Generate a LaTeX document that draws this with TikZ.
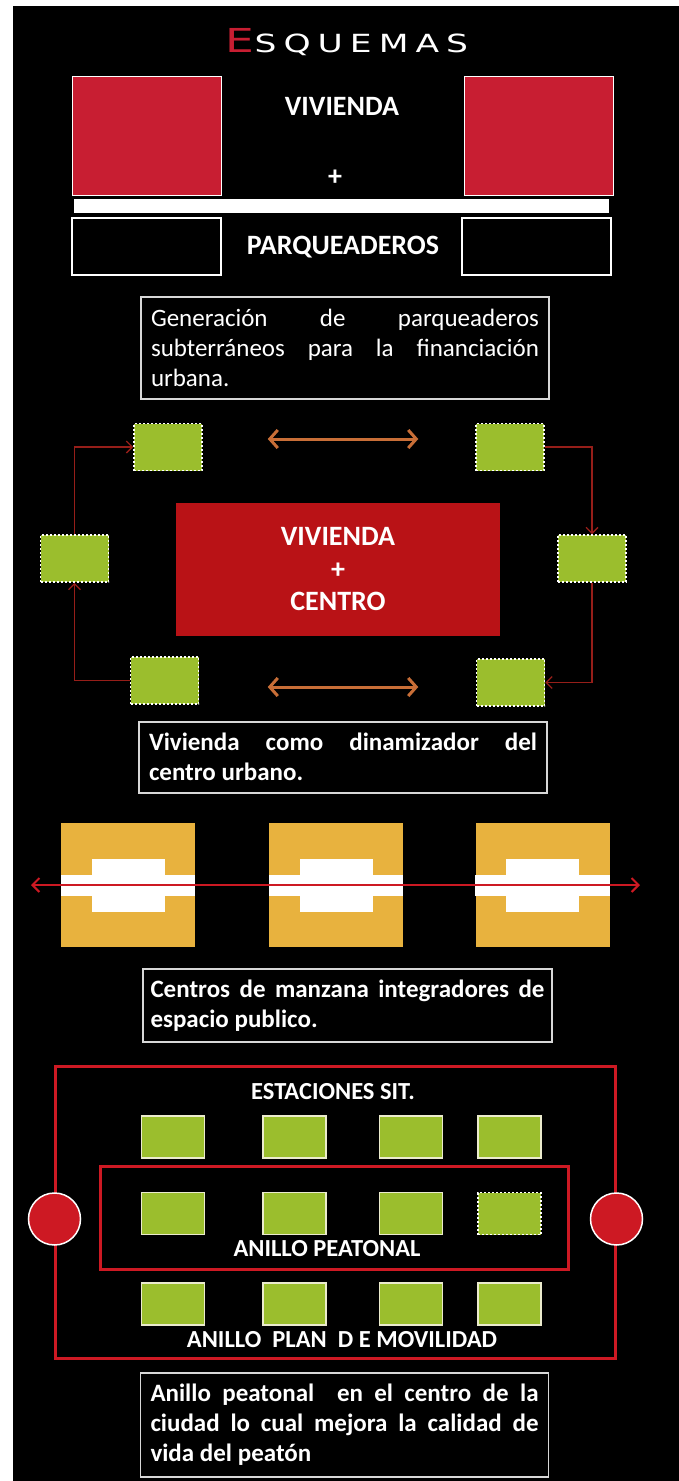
\documentclass[tikz,border=0pt]{standalone}
\usepackage{fontspec}
\setmainfont{Carlito}
\newfontfamily\titlefont[FakeStretch=1.38,LetterSpace=28]{DejaVu Sans}
\usepackage{tikz}
\usetikzlibrary{arrows.meta, positioning, calc}
\definecolor{myred}{RGB}{200,30,50}
\definecolor{mycrimson}{RGB}{185,18,22}
\definecolor{mylime}{RGB}{155,190,45}
\definecolor{myochre}{RGB}{232,178,62}
\definecolor{mycopper}{RGB}{200,110,55}
\definecolor{mymaroon}{RGB}{150,30,25}
\definecolor{myring}{RGB}{205,25,35}
\definecolor{myframe}{RGB}{215,215,215}
\definecolor{mycream}{RGB}{235,235,205}
\hyphenpenalty=10000
\exhyphenpenalty=10000
\newcommand{\notefont}{\fontsize{25bp}{30bp}\selectfont\spaceskip=0.23em plus 3em minus 0.06em\relax}
\newcommand{\notefontbold}{\fontsize{25bp}{30bp}\selectfont\bfseries\spaceskip=0.23em plus 3em minus 0.06em\relax}
\tikzset{
  redsq/.style={rectangle, fill=myred, draw=white, line width=1bp,
    minimum width=149bp, minimum height=118bp, inner sep=0pt},
  whitebar/.style={rectangle, fill=white, minimum width=535bp,
    minimum height=14bp, inner sep=0pt},
  parkbox/.style={rectangle, draw=white, line width=1.5bp,
    minimum width=149bp, minimum height=57bp, inner sep=0pt},
  caption/.style={text=white, font=\fontsize{28bp}{33bp}\selectfont\bfseries},
  notebox/.style={rectangle, draw=myframe, line width=1.5bp, text=white,
    text width=388bp, align=justify, inner xsep=10bp, inner ysep=0pt,
    font=\notefont},
  boldnote/.style={notebox, font=\notefontbold},
  ctrbox/.style={rectangle, fill=mycrimson, text=white, align=center,
    minimum width=324bp, minimum height=133bp,
    font=\fontsize{28bp}{32.5bp}\selectfont\bfseries},
  dotbox/.style={rectangle, fill=mylime, draw=white, line width=1.5bp,
    dash pattern=on 2bp off 2bp, minimum width=68bp, minimum height=47bp,
    inner sep=0pt},
  looparrow/.style={-{Straight Barb[length=6bp, width=12bp]}, line width=1.3bp,
    color=mymaroon},
  duplex/.style={{Straight Barb[length=8bp, width=18bp]}-{Straight Barb[length=8bp, width=18bp]},
    line width=3bp, color=mycopper},
  ochreblk/.style={rectangle, fill=myochre, minimum width=134bp,
    minimum height=124bp, inner sep=0pt},
  axisarrow/.style={{Straight Barb[length=7bp, width=14bp]}-{Straight Barb[length=7bp, width=14bp]},
    line width=2bp, color=myring},
  ringbox/.style={rectangle, draw=myring, line width=3bp, inner sep=0pt},
  stationbox/.style={rectangle, fill=mylime, draw=mycream, line width=1.5bp,
    minimum width=63bp, minimum height=42bp, inner sep=0pt},
  ringdot/.style={circle, fill=myring, draw=white, line width=1.5bp,
    minimum size=52bp, inner sep=0pt},
  ringlabel/.style={text=white, font=\fontsize{24.5bp}{29bp}\selectfont\bfseries}
}

\begin{document}
\begin{tikzpicture}[x=1bp, y=-1bp]
  \useasboundingbox (0,0) rectangle (679,1481);
  \fill[white] (0,0) rectangle (679,1481);
  \fill[black] (13,6) rectangle (679,1481);

  \node[anchor=base, text=white, font=\titlefont] (title) at (347,53)
    {{\color{myred}\fontsize{33bp}{33bp}\selectfont E}\fontsize{25bp}{25bp}\selectfont SQUEMAS};

  \node[redsq] (vivL) at (146.5,136) {};
  \node[redsq, right=242bp of vivL] (vivR) {};
  \node[whitebar] (bar) at (341.5,206) {};
  \node[parkbox] (parkL) at (146.5,246.5) {};
  \node[parkbox] (parkR) at (536.5,246.5) {};
  \node[caption] (vivlbl) at (342,106) {VIVIENDA};
  \node[caption] (plus) at (335,178) {+};
  \node[caption] (parklbl) at (343,247) {PARQUEADEROS};
  \node[notebox, anchor=north, minimum height=102bp] (note1) at (345,296)
    {Generación de parqueaderos subterráneos para la financiación urbana.};

  \node[ctrbox] (ctr) at (338,569.5) {VIVIENDA\\+\\CENTRO};
  \node[dotbox] (tl) at (168,447) {};
  \node[dotbox] (tr) at (510,447) {};
  \node[dotbox] (ml) at (74.5,558.5) {};
  \node[dotbox] (mr) at (592,558.5) {};
  \node[dotbox] (bl) at (164.5,680.5) {};
  \node[dotbox] (br) at (510.5,682.5) {};
  \draw[looparrow] (ml.north) |- (tl.west);
  \draw[looparrow] (tr.east) -| (mr.north);
  \draw[looparrow] (mr.south) |- (br.east);
  \draw[looparrow] (bl.west) -| (ml.south);
  \draw[duplex] ($(tl.east)+(65,-8)$) -- ($(tr.west)+(-57,-8)$);
  \draw[duplex] ($(bl.east)+(68.5,6.5)$) -- ($(br.west)+(-57.5,4.5)$);
  \node[boldnote, anchor=north, minimum height=71bp] (note2) at (343,721)
    {Vivienda como dinamizador del centro urbano.};

  \foreach \name/\xc in {blk1/128, blk2/336, blk3/542.5} {
    \node[ochreblk] (\name) at (\xc,885) {};
    \fill[white] ($(\name.west)+(0,-10.5)$) rectangle ($(\name.east)+(0,10.5)$);
    \fill[white] ($(\name.center)+(-36.5,-26.5)$) rectangle ($(\name.center)+(36.5,26.5)$);
  }
  \coordinate (axisW) at (31,885);
  \coordinate (axisE) at (640,885);
  \draw[axisarrow] (axisW) -- (axisE);
  \node[boldnote, anchor=north, text width=394bp, inner xsep=7.5bp, minimum height=73bp] (note3) at (347.5,968)
    {Centros de manzana integradores de espacio publico.};

  \node[ringbox, minimum width=559bp, minimum height=292bp] (mobring) at (335.5,1212) {};
  \node[ringbox, minimum width=467bp, minimum height=103bp] (pedring) at (334.5,1217.5) {};
  \foreach \yc/\row in {1137/1, 1304/3}
    \foreach \xc/\col in {173/1, 294.5/2, 411/3, 509.5/4}
      \node[stationbox] (st-\row-\col) at (\xc,\yc) {};
  \foreach \xc/\col in {173/1, 294.5/2, 411/3}
    \node[stationbox] (st-2-\col) at (\xc,1213.5) {};
  \node[stationbox, draw=white, dash pattern=on 2bp off 2bp] (st-2-4) at (509.5,1213.5) {};
  \node[ringdot] (dotW) at ($(mobring.west)+(0,7)$) {};
  \node[ringdot] (dotE) at ($(mobring.east)+(0,7)$) {};
  \node[ringlabel] (stationlbl) at (333,1092) {ESTACIONES SIT.};
  \node[ringlabel] (pedlbl) at (327,1249) {ANILLO PEATONAL};
  \node[ringlabel] (moblbl) at (342,1340) {ANILLO\ \ PLAN\ \ D E MOVILIDAD};
  \node[boldnote, anchor=north, minimum height=104bp] (note4) at (344.5,1372)
    {Anillo peatonal\ \ en el centro de la ciudad lo cual mejora la calidad de vida del peatón};
\end{tikzpicture}
\end{document}
